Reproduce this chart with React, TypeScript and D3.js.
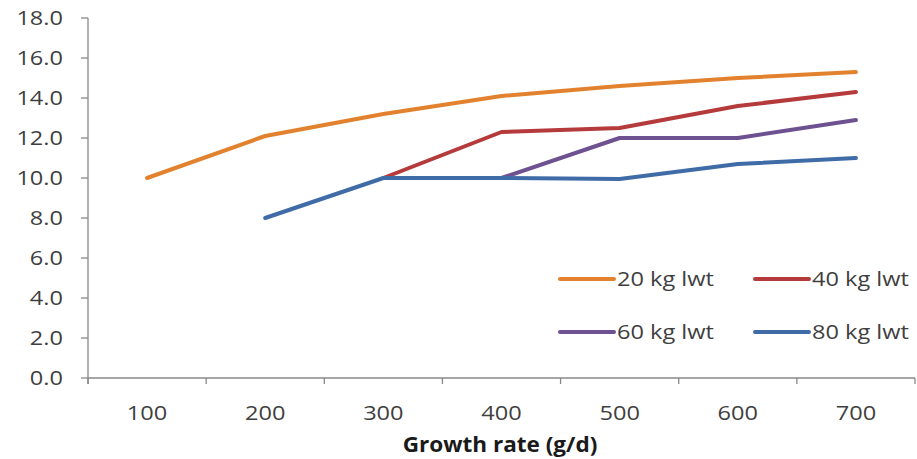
import React from "react";
import * as d3 from "d3";

const categories = ["100", "200", "300", "400", "500", "600", "700"];
const series20 = [10.0, 12.1, 13.2, 14.1, 14.6, 15.0, 15.3];
const series40 = [null, null, 10.0, 12.3, 12.5, 13.6, 14.3];
const series60 = [null, null, null, 10.0, 12.0, 12.0, 12.9];
const series80 = [null, 8.0, 10.0, 10.0, 9.95, 10.7, 11.0];
const seriesNames = ["20 kg lwt", "40 kg lwt", "60 kg lwt", "80 kg lwt"];
const yTicks = [0, 2, 4, 6, 8, 10, 12, 14, 16, 18];
const xTitle = "Growth rate (g/d)";

const W = 917;
const H = 459;
const left = 88;
const right = 915;
const top = 18;
const bottom = 378;
const colors = ["#E2822E", "#B53A3B", "#6E5190", "#3F6CA6"];
const FONT = "'Open Sans', sans-serif";
const FS = 20.5;
const SX = 1.15;

function T({ x, y, anchor, children, weight, sx, fs }: any) {
  return (
    <text
      transform={`translate(${x},${y}) scale(${sx ?? SX},1)`}
      textAnchor={anchor}
      fontFamily={FONT}
      fontSize={fs ?? FS}
      fontWeight={weight ?? 400}
      fill={weight ? "#1a1a1a" : "#3f3f3f"}
    >
      {children}
    </text>
  );
}

export default function App() {
  const x = d3.scaleBand<string>().domain(categories).range([left, right]).padding(0);
  const bw = x.bandwidth();
  const cx = (c: string) => (x(c) as number) + bw / 2;
  const y = d3.scaleLinear().domain([0, 18]).range([bottom, top]);

  const data = [series20, series40, series60, series80];
  const line = d3
    .line<number | null>()
    .defined((d) => d !== null)
    .x((_, i) => cx(categories[i]))
    .y((d) => y(d as number));

  const boundaries = d3.range(categories.length + 1).map((i) => left + i * bw);
  const legendPos = [
    { lx: 560, ly: 279 },
    { lx: 755, ly: 279 },
    { lx: 560, ly: 332 },
    { lx: 755, ly: 332 },
  ];

  return (
    <svg
      width={W}
      height={H}
      style={{ position: "absolute", left: 0, top: 0, background: "#fff" }}
    >
      {/* y axis */}
      <line x1={left} x2={left} y1={top} y2={bottom + 6} stroke="#888" strokeWidth={1.3} />
      {yTicks.map((t) => (
        <g key={t}>
          <line x1={left - 7} x2={left} y1={y(t)} y2={y(t)} stroke="#888" strokeWidth={1.3} />
          <T x={63} y={y(t) + 7} anchor="end">
            {t.toFixed(1)}
          </T>
        </g>
      ))}
      {/* x axis */}
      <line x1={left} x2={right} y1={bottom} y2={bottom} stroke="#888" strokeWidth={1.3} />
      {boundaries.map((b, i) => (
        <line key={i} x1={b} x2={b} y1={bottom} y2={bottom + 6} stroke="#888" strokeWidth={1.3} />
      ))}
      {categories.map((c) => (
        <T key={c} x={cx(c)} y={420} anchor="middle">
          {c}
        </T>
      ))}
      <T x={500} y={452} anchor="middle" weight={700} sx={1.1}>
        {xTitle}
      </T>
      {/* lines */}
      {data.map((s, i) => (
        <path
          key={i}
          d={line(s) as string}
          fill="none"
          stroke={colors[i]}
          strokeWidth={4}
          strokeLinejoin="round"
          strokeLinecap="round"
        />
      ))}
      {/* legend */}
      {seriesNames.map((n, i) => (
        <g key={n}>
          <line
            x1={legendPos[i].lx}
            x2={legendPos[i].lx + 54}
            y1={legendPos[i].ly}
            y2={legendPos[i].ly}
            stroke={colors[i]}
            strokeWidth={4}
            strokeLinecap="round"
          />
          <T x={legendPos[i].lx + 57} y={legendPos[i].ly + 7} anchor="start">
            {n}
          </T>
        </g>
      ))}
    </svg>
  );
}
